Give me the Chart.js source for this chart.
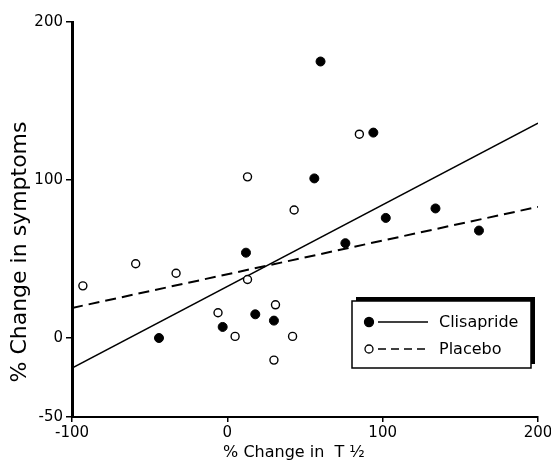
<!DOCTYPE html>
<html>
<head>
<meta charset="utf-8">
<script src="https://cdn.jsdelivr.net/npm/chart.js@4/dist/chart.umd.min.js"></script>
<style>
  html, body { margin: 0; padding: 0; background: #fff; }
  #wrap { width: 551px; height: 460px; }
</style>
</head>
<body>
<div id="wrap"><canvas id="chart"></canvas></div>
<script>
// values
const clisaprideX = [60, 94, 56, 12, 76, 102, 134, 162, -44, -3, 18, 30];
const clisaprideY = [175, 130, 101, 54, 60, 76, 82, 68, 0, 7, 15, 11];
const placeboX = [-93, -59, -33, 13, 43, 13, -6, 5, 31, 42, 30, 85];
const placeboY = [33, 47, 41, 102, 81, 37, 16, 1, 21, 1, -14, 129];

// regression lines, end points
const fitX = [-100, 200];
const clisaprideFitY = [-19, 136];
const placeboFitY = [19, 83];

const xTicks = [-100, 0, 100, 200];
const yTicks = [-50, 0, 100, 200];

const FONT = "'DejaVu Sans', sans-serif";

const pairs = (xs, ys) => xs.map((x, i) => ({ x, y: ys[i] }));

// axis titles and boxed legend
const decor = {
  id: 'decor',
  afterDraw(chart) {
    const { ctx, chartArea: a } = chart;
    ctx.save();
    ctx.fillStyle = '#000';

    // y title
    ctx.save();
    ctx.translate(20, 252);
    ctx.rotate(-Math.PI / 2);
    ctx.font = `22px ${FONT}`;
    ctx.textAlign = 'center';
    ctx.textBaseline = 'middle';
    ctx.fillText('% Change in symptoms', 0, 0);
    ctx.restore();

    // x title
    ctx.font = `16px ${FONT}`;
    ctx.textAlign = 'center';
    ctx.textBaseline = 'alphabetic';
    ctx.fillText('% Change in  T \u00BD', 294, 457);

    // legend box with shadow on top / right
    const bx = a.right - 186, by = a.bottom - 116, bw = 179, bh = 67;
    ctx.fillRect(bx + 4, by - 4, bw, bh);
    ctx.fillStyle = '#fff';
    ctx.fillRect(bx, by, bw, bh);
    ctx.strokeStyle = '#000';
    ctx.lineWidth = 1.5;
    ctx.strokeRect(bx, by, bw, bh);

    const rows = [
      { label: 'Clisapride', fill: '#000', r: 4.5, dash: [] },
      { label: 'Placebo', fill: '#fff', r: 4, dash: [8, 5] }
    ];
    rows.forEach((row, i) => {
      const y = by + 21 + i * 27;
      ctx.beginPath();
      ctx.arc(bx + 17, y, row.r, 0, Math.PI * 2);
      ctx.fillStyle = row.fill;
      ctx.fill();
      ctx.lineWidth = 1.3;
      ctx.stroke();

      ctx.beginPath();
      ctx.setLineDash(row.dash);
      ctx.lineWidth = 1.5;
      ctx.moveTo(bx + 26, y);
      ctx.lineTo(bx + 76, y);
      ctx.stroke();
      ctx.setLineDash([]);

      ctx.fillStyle = '#000';
      ctx.font = `16px ${FONT}`;
      ctx.textAlign = 'left';
      ctx.textBaseline = 'middle';
      ctx.fillText(row.label, bx + 87, y + 1);
    });
    ctx.restore();
  }
};

new Chart(document.getElementById('chart'), {
  type: 'scatter',
  data: {
    datasets: [
      {
        label: 'Clisapride',
        data: pairs(clisaprideX, clisaprideY),
        pointRadius: 4.5,
        backgroundColor: '#000',
        borderColor: '#000',
        borderWidth: 1
      },
      {
        label: 'Placebo',
        data: pairs(placeboX, placeboY),
        pointRadius: 4,
        backgroundColor: '#fff',
        borderColor: '#000',
        borderWidth: 1.4
      },
      {
        label: 'Clisapride fit',
        data: pairs(fitX, clisaprideFitY),
        showLine: true,
        pointRadius: 0,
        borderColor: '#000',
        borderWidth: 1.5
      },
      {
        label: 'Placebo fit',
        data: pairs(fitX, placeboFitY),
        showLine: true,
        pointRadius: 0,
        borderColor: '#000',
        borderWidth: 2,
        borderDash: [11, 6]
      }
    ]
  },
  options: {
    responsive: true,
    maintainAspectRatio: false,
    animation: false,
    layout: { padding: { top: 22, right: 13, left: 0, bottom: 0 } },
    plugins: {
      legend: { display: false },
      tooltip: { enabled: false }
    },
    scales: {
      x: {
        type: 'linear',
        min: -100,
        max: 200,
        afterBuildTicks: s => { s.ticks = xTicks.map(v => ({ value: v })); },
        afterFit: s => { s.height = 43; s.paddingLeft = 0; s.paddingRight = 0; },
        grid: { drawOnChartArea: false, color: '#000', lineWidth: 1.5, tickLength: 5 },
        border: { color: '#000', width: 2 },
        ticks: { color: '#000', padding: 2, font: { family: FONT, size: 15 } }
      },
      y: {
        type: 'linear',
        min: -50,
        max: 200,
        afterBuildTicks: s => { s.ticks = yTicks.map(v => ({ value: v })); },
        afterFit: s => { s.width = 72; s.paddingTop = 0; s.paddingBottom = 0; },
        grid: { drawOnChartArea: false, color: '#000', lineWidth: 1.5, tickLength: 6 },
        border: { color: '#000', width: 3 },
        ticks: { color: '#000', padding: 3, font: { family: FONT, size: 15 } }
      }
    }
  },
  plugins: [decor]
});
</script>
</body>
</html>
